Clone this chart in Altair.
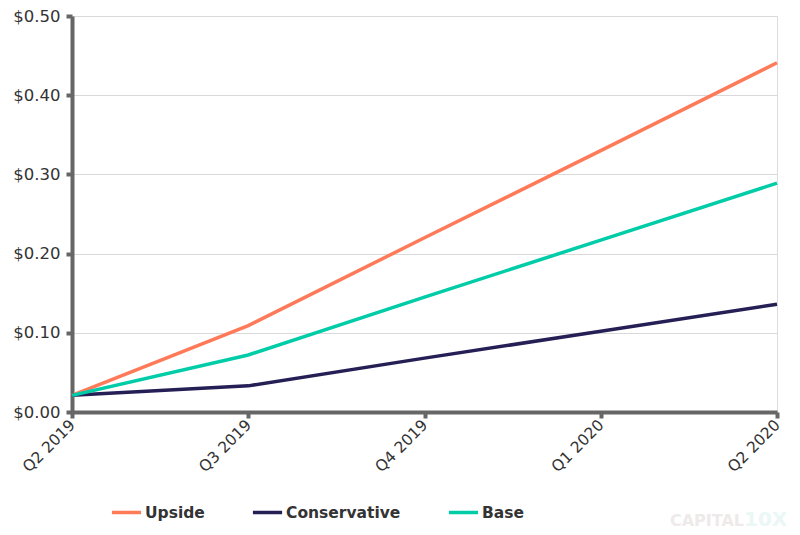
import altair as alt
import pandas as pd

quarters = ["Q2 2019", "Q3 2019", "Q4 2019", "Q1 2020", "Q2 2020"]
upside = [0.021, 0.109, 0.220, 0.330, 0.441]
conservative = [0.021, 0.033, 0.068, 0.102, 0.136]
base = [0.021, 0.072, 0.145, 0.217, 0.289]
series = ["Upside", "Conservative", "Base"]
colors = ["#FF7A59", "#241F55", "#00CCA8"]

rows = []
for name, vals in zip(series, [upside, conservative, base]):
    for q, v in zip(quarters, vals):
        rows.append({"quarter": q, "value": v, "series": name})
df = pd.DataFrame(rows)

font = "DejaVu Sans"

lines = alt.Chart(df).mark_line(strokeWidth=3.5).encode(
    x=alt.X("quarter:N", sort=quarters, title=None,
            scale=alt.Scale(type="point", padding=0),
            axis=alt.Axis(labelAngle=-45, labelAlign="right", labelBaseline="middle",
                          labelFontSize=15.5, labelColor="#333333", labelFont=font,
                          domainColor="#666666", domainWidth=4,
                          tickColor="#666666", tickWidth=4, tickSize=6,
                          labelPadding=4, grid=False)),
    y=alt.Y("value:Q", title=None,
            scale=alt.Scale(domain=[0, 0.5], nice=False),
            axis=alt.Axis(values=[0, 0.1, 0.2, 0.3, 0.4, 0.5], format="$.2f",
                          labelFontSize=16.5, labelColor="#333333", labelFont=font,
                          domainColor="#666666", domainWidth=4,
                          tickColor="#666666", tickWidth=4, tickSize=6,
                          labelPadding=6, gridColor="#D9D9D9", gridWidth=1)),
    color=alt.Color("series:N", sort=series,
                    scale=alt.Scale(domain=series, range=colors),
                    legend=alt.Legend(title=None, orient="none", direction="horizontal",
                                      legendX=38, legendY=480,
                                      symbolType="stroke", symbolStrokeWidth=3.5,
                                      symbolSize=850, labelFontSize=15.5,
                                      labelFontWeight="bold", labelFont=font,
                                      labelColor="#333333", columnPadding=40,
                                      labelOffset=2)),
)

wm = pd.DataFrame({"t": ["CAPITAL"]})
watermark = alt.Chart(wm).mark_text(
    text="CAPITAL", font=font, fontSize=16, fontWeight="bold",
    color="#EEEAEA", align="right", baseline="middle"
).encode(x=alt.value(672), y=alt.value(505))
watermark2 = alt.Chart(wm).mark_text(
    text="10X", font=font, fontSize=20, fontWeight="bold",
    color="#EAF7F5", align="left", baseline="middle"
).encode(x=alt.value(672), y=alt.value(504))

chart = alt.layer(lines, watermark, watermark2).properties(
    width=705, height=396, padding={"left": 64, "top": 8, "right": 15, "bottom": 120},
    autosize=alt.AutoSizeParams(type="none")
).configure_view(stroke=None).configure(background="white")

chart.save("out.html", embed_options={"renderer": "svg", "actions": False})
